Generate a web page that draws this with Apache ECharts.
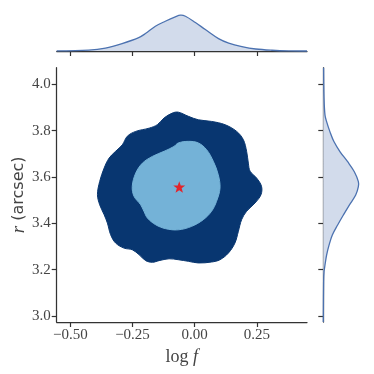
<!DOCTYPE html>
<html>
<head>
<meta charset="utf-8">
<script src="https://cdn.jsdelivr.net/npm/echarts@6/dist/echarts.min.js"></script>
<style>
  html, body { margin: 0; padding: 0; background: #fff; }
  #chart { width: 374px; height: 374px; }
</style>
</head>
<body>
<div id="chart"></div>
<script>
// axis ranges and ticks
const logfRange = [-0.555, 0.452];
const rRange = [2.974, 4.072];
const logfTicks = [-0.5, -0.25, 0, 0.25];
const rTicks = [3.0, 3.2, 3.4, 3.6, 3.8, 4.0];

// outer (2 sigma) contour, [log f, r]
const outerContour = [
  [-0.066, 3.880], [-0.025, 3.862], [0.015, 3.847], [0.068, 3.840], [0.122, 3.826],
  [0.169, 3.797], [0.196, 3.761], [0.209, 3.711], [0.216, 3.660], [0.223, 3.625],
  [0.249, 3.596], [0.269, 3.560], [0.267, 3.524], [0.243, 3.488], [0.209, 3.452],
  [0.189, 3.416], [0.176, 3.366], [0.162, 3.315], [0.136, 3.272], [0.102, 3.243],
  [0.068, 3.233], [0.015, 3.229], [-0.025, 3.236], [-0.066, 3.243], [-0.103, 3.247],
  [-0.143, 3.239], [-0.170, 3.232], [-0.197, 3.239], [-0.224, 3.265], [-0.251, 3.286],
  [-0.284, 3.293], [-0.318, 3.315], [-0.338, 3.351], [-0.351, 3.401], [-0.364, 3.437],
  [-0.382, 3.480], [-0.391, 3.524], [-0.382, 3.581], [-0.364, 3.639], [-0.344, 3.682],
  [-0.318, 3.711], [-0.291, 3.739], [-0.271, 3.776], [-0.237, 3.797], [-0.183, 3.811],
  [-0.150, 3.826], [-0.123, 3.855], [-0.090, 3.876]
];

// inner (1 sigma) contour, [log f, r]
const innerContour = [
  [-0.066, 3.747], [-0.025, 3.754], [0.015, 3.747], [0.048, 3.718], [0.075, 3.668],
  [0.095, 3.610], [0.102, 3.552], [0.088, 3.495], [0.068, 3.452], [0.035, 3.416],
  [-0.012, 3.387], [-0.066, 3.372], [-0.117, 3.377], [-0.157, 3.394], [-0.190, 3.423],
  [-0.204, 3.452], [-0.217, 3.480], [-0.244, 3.517], [-0.251, 3.560], [-0.237, 3.617],
  [-0.210, 3.660], [-0.170, 3.689], [-0.123, 3.711], [-0.083, 3.732]
];

const bestFit = [[-0.062, 3.557]];

// marginal density of log f
const topLogf = [-0.555, -0.426, -0.359, -0.292, -0.225, -0.198, -0.158, -0.118, -0.078, -0.057,
  -0.037, 0.003, 0.043, 0.096, 0.137, 0.190, 0.246, 0.311, 0.378, 0.452];
const topDens = [0.02, 0.09, 0.28, 0.70, 1.26, 1.64, 2.33, 2.80, 3.21, 3.37,
  3.27, 2.68, 2.02, 1.17, 0.75, 0.42, 0.19, 0.07, 0.01, 0.0];

// marginal density of r
const rightR = [4.072, 3.940, 3.867, 3.839, 3.795, 3.752, 3.709, 3.666, 3.623, 3.580, 3.558,
  3.522, 3.479, 3.436, 3.393, 3.350, 3.306, 3.263, 3.220, 3.191, 3.148, 2.974];
const rightDens = [0.03, 0.07, 0.16, 0.31, 0.63, 1.01, 1.58, 2.29, 2.92, 3.30, 3.30,
  3.05, 2.45, 1.89, 1.35, 0.85, 0.54, 0.31, 0.16, 0.07, 0.03, 0.0];

const densMax = 4.8;

const axisColor = '#333';
const labelColor = '#444';
const kdeLine = '#4c72b0';
const kdeFill = '#d2dbeb';

function fmtTick(v, d) {
  return (v < 0 ? '\u2212' : '') + Math.abs(v).toFixed(d);
}

function shapeSeries(pts, xi, yi, fill, stroke, closeLine, z) {
  return {
    type: 'custom',
    xAxisIndex: xi,
    yAxisIndex: yi,
    z: z,
    silent: true,
    data: [pts[0]],
    renderItem: function (params, api) {
      const p = pts.map(function (d) { return api.coord(d); });
      const children = [];
      if (fill) {
        children.push({
          type: 'polygon',
          shape: { points: p, smooth: 0.35 },
          style: { fill: fill, stroke: closeLine ? fill : null }
        });
      }
      if (stroke) {
        const line = p.slice(1, p.length - 1);
        children.push({
          type: 'polyline',
          shape: { points: line, smooth: 0.35 },
          style: { fill: null, stroke: stroke, lineWidth: 1.3 }
        });
      }
      return { type: 'group', children: children };
    }
  };
}

const topPts = [[topLogf[0], 0]].concat(topLogf.map(function (x, i) { return [x, topDens[i]]; }))
  .concat([[topLogf[topLogf.length - 1], 0]]);
const rightPts = [[0, rightR[0]]].concat(rightR.map(function (r, i) { return [rightDens[i], r]; }))
  .concat([[0, rightR[rightR.length - 1]]]);

const tickStyle = { show: true, length: 5, inside: false, lineStyle: { color: axisColor, width: 1.2 } };
const lineStyle = { show: true, onZero: false, lineStyle: { color: axisColor, width: 1.25 } };

const chart = echarts.init(document.getElementById('chart'), null, { renderer: 'canvas' });
chart.setOption({
  animation: false,
  backgroundColor: '#fff',
  grid: [
    { left: 56.7, top: 67.7, width: 250.3, height: 254.3, outerBoundsMode: 'none', containLabel: false },
    { left: 56.7, top: 0, width: 250.3, height: 51, outerBoundsMode: 'none', containLabel: false },
    { left: 323.3, top: 67.7, width: 51, height: 254.3, outerBoundsMode: 'none', containLabel: false }
  ],
  xAxis: [
    {
      gridIndex: 0, type: 'value', min: logfRange[0], max: logfRange[1],
      axisLine: lineStyle,
      axisTick: Object.assign({ customValues: logfTicks }, tickStyle),
      axisLabel: {
        customValues: logfTicks, color: labelColor, fontSize: 15, margin: 6,
        fontFamily: 'Liberation Serif',
        formatter: function (v) { return fmtTick(v, 2); }
      },
      splitLine: { show: false },
      name: 'log {it|f}', nameLocation: 'middle', nameGap: 20,
      nameTextStyle: {
        fontFamily: 'Liberation Serif', fontSize: 18, color: labelColor,
        rich: { it: { fontFamily: 'Liberation Serif', fontStyle: 'italic', fontSize: 18, color: labelColor } }
      }
    },
    {
      gridIndex: 1, type: 'value', min: logfRange[0], max: logfRange[1],
      axisLine: lineStyle,
      axisTick: Object.assign({ customValues: logfTicks }, tickStyle),
      axisLabel: { show: false },
      splitLine: { show: false }
    },
    {
      gridIndex: 2, type: 'value', min: 0, max: densMax, show: false
    }
  ],
  yAxis: [
    {
      gridIndex: 0, type: 'value', min: rRange[0], max: rRange[1],
      axisLine: lineStyle,
      axisTick: Object.assign({ customValues: rTicks }, tickStyle),
      axisLabel: {
        customValues: rTicks, color: labelColor, fontSize: 15, margin: 6,
        fontFamily: 'Liberation Serif',
        formatter: function (v) { return fmtTick(v, 1); }
      },
      splitLine: { show: false },
      name: '{it|r} (arcsec)', nameLocation: 'middle', nameGap: 28, nameMoveOverlap: false,
      nameTextStyle: {
        fontFamily: 'DejaVu Sans', fontSize: 16, color: labelColor,
        rich: { it: { fontFamily: 'Liberation Serif', fontStyle: 'italic', fontSize: 19, color: labelColor } }
      }
    },
    {
      gridIndex: 1, type: 'value', min: 0, max: densMax, show: false
    },
    {
      gridIndex: 2, type: 'value', min: rRange[0], max: rRange[1],
      axisLine: lineStyle,
      axisTick: Object.assign({ customValues: rTicks }, tickStyle),
      axisLabel: { show: false },
      splitLine: { show: false }
    }
  ],
  series: [
    shapeSeries(outerContour, 0, 0, '#083670', null, true, 1),
    shapeSeries(innerContour, 0, 0, '#74b2d7', null, true, 2),
    {
      type: 'scatter', xAxisIndex: 0, yAxisIndex: 0, z: 5, silent: true,
      data: bestFit,
      symbol: 'path://M0,-10 L2.35,-3.24 L9.51,-3.09 L3.8,1.24 L5.88,8.09 L0,4 L-5.88,8.09 L-3.8,1.24 L-9.51,-3.09 L-2.35,-3.24 Z',
      symbolSize: [12, 11.5],
      itemStyle: { color: '#ff0000' }
    },
    shapeSeries(topPts, 1, 1, kdeFill, kdeLine, false, 1),
    shapeSeries(rightPts, 2, 2, kdeFill, kdeLine, false, 1)
  ]
});
</script>
</body>
</html>
